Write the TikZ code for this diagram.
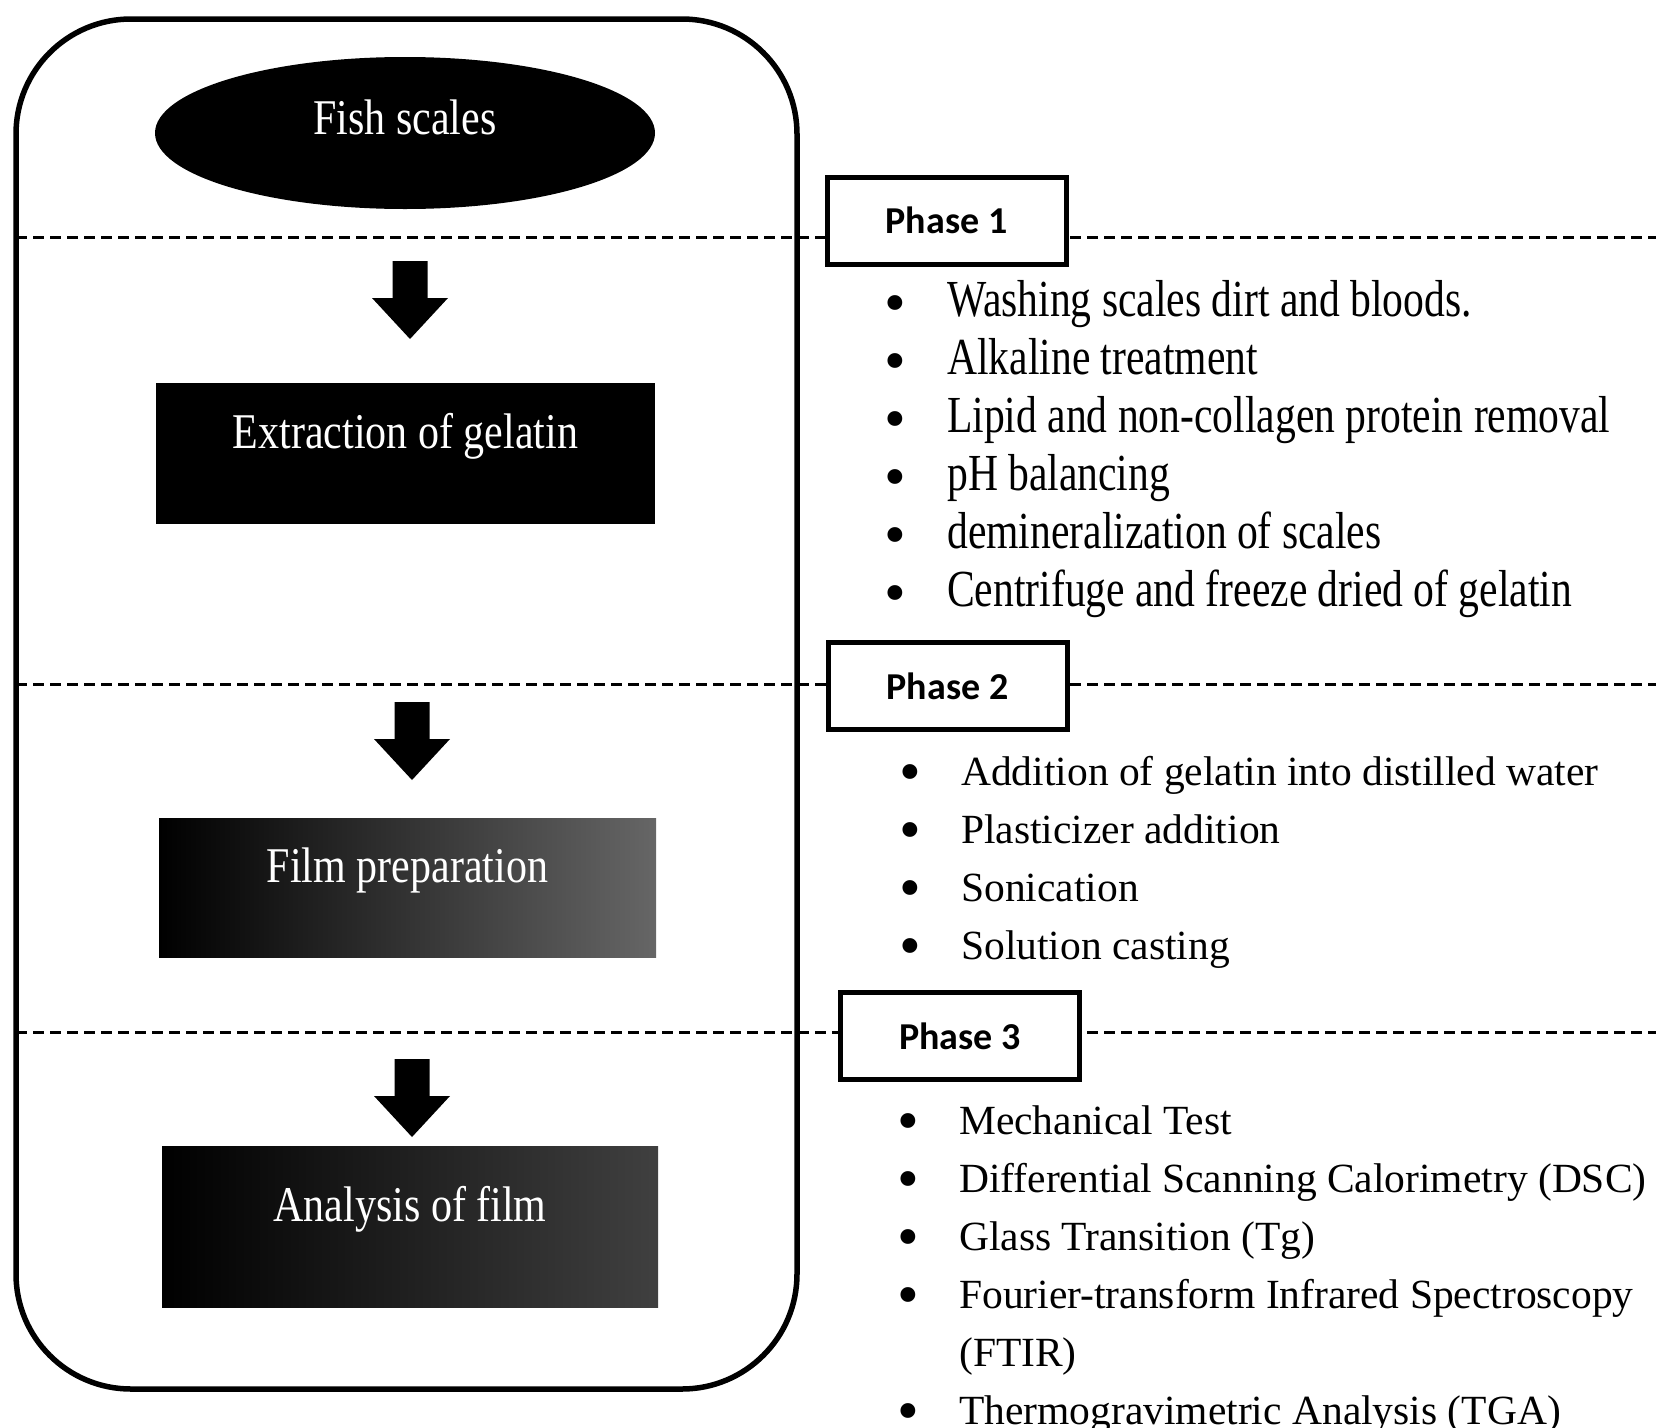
\documentclass[tikz,border=0pt]{standalone}
\usepackage{fontspec}
\usepackage{graphicx}
\setmainfont{Liberation Serif}
\newfontfamily\boxfont[FakeStretch=0.84]{Liberation Serif}
\newfontfamily\condfont[FakeStretch=0.8]{Liberation Serif}
\newfontfamily\phasefont{Carlito}
\usetikzlibrary{shapes.geometric}

% fat black arrow: x of the middle, y of the top
\newcommand{\fatarrow}[2]{%
  \fill (#1-17.5,#2) -- (#1+17.5,#2) -- (#1+17.5,#2+37) -- (#1+38,#2+37)
    -- (#1,#2+78) -- (#1-38,#2+37) -- (#1-17.5,#2+37) -- cycle;}
% big round bullet
\newcommand{\dotmark}{\raisebox{-7pt}{\normalfont\fontsize{62}{58}\selectfont\textbullet}}

\tikzset{
  stage/.style={fill=black, text=white, inner sep=0pt,
    text height=35pt, text depth=45pt,
    font=\boxfont\fontsize{50}{50}\selectfont},
  phasebox/.style={draw, line width=5pt, fill=white, inner sep=0pt,
    minimum width=239pt, minimum height=87pt,
    font=\phasefont\bfseries\fontsize{38}{38}\selectfont},
  divider/.style={line width=3pt, dash pattern=on 11pt off 6pt},
  steps/.style={anchor=base west, inner sep=0pt}
}

\begin{document}
\begin{tikzpicture}[x=1pt, y=-1pt]
  \useasboundingbox (0,0) rectangle (1656,1427);

  % phase dividers
  \draw [divider] (16,237) -- (1656,237);
  \draw [divider] (16,684) -- (1656,684);
  \draw [divider] (16,1032) -- (1656,1032);

  % outer frame
  \draw [line width=5.5pt, rounded corners=115pt] (16,19) rectangle (797,1389);

  % left column
  \node (fish) [stage, ellipse, minimum width=500pt, minimum height=152pt,
    text depth=33pt] at (405,133) {Fish scales};
  \node (extract) [stage, minimum width=499pt, minimum height=141pt]
    at (405.5,453.5) {Extraction of gelatin};
  \node (film) [stage, left color=black, right color=black!60,
    minimum width=497pt, minimum height=139pt]
    at (407.5,887.5) {Film preparation};
  \node (analysis) [stage, left color=black, right color=black!75,
    minimum width=496pt, minimum height=161pt]
    at (410,1226.5) {Analysis of film};

  \fatarrow{410}{261}
  \fatarrow{412}{702}
  \fatarrow{412}{1059}

  % phase labels
  \node (ph1) [phasebox] at (946.5,220.5) {Phase 1};
  \node (ph2) [phasebox] at (947.5,686) {Phase 2};
  \node (ph3) [phasebox] at (960,1036) {Phase 3};

  % what each phase does
  \node (listA) [steps] at (884,316) {\condfont\fontsize{52}{58}\selectfont
    \begin{tabular}[t]{@{}p{63pt}@{}l@{}}
      \dotmark & Washing scales dirt and bloods.\\
      \dotmark & Alkaline treatment\\
      \dotmark & Lipid and non-collagen protein removal\\
      \dotmark & pH balancing\\
      \dotmark & demineralization of scales\\
      \dotmark & Centrifuge and freeze dried of gelatin
    \end{tabular}};
  \node (listB) [steps] at (899,785) {\fontsize{41.5}{58}\selectfont
    \begin{tabular}[t]{@{}p{62pt}@{}l@{}}
      \dotmark & Addition of gelatin into distilled water\\
      \dotmark & Plasticizer addition\\
      \dotmark & Sonication\\
      \dotmark & Solution casting
    \end{tabular}};
  \node (listC) [steps] at (897,1134) {\fontsize{41.5}{58}\selectfont
    \begin{tabular}[t]{@{}p{62pt}@{}l@{}}
      \dotmark & Mechanical Test\\
      \dotmark & Differential Scanning Calorimetry (DSC)\\
      \dotmark & Glass Transition (Tg)\\
      \dotmark & Fourier-transform Infrared Spectroscopy\\
               & (FTIR)\\
      \dotmark & Thermogravimetric Analysis (TGA)
    \end{tabular}};
\end{tikzpicture}
\end{document}
